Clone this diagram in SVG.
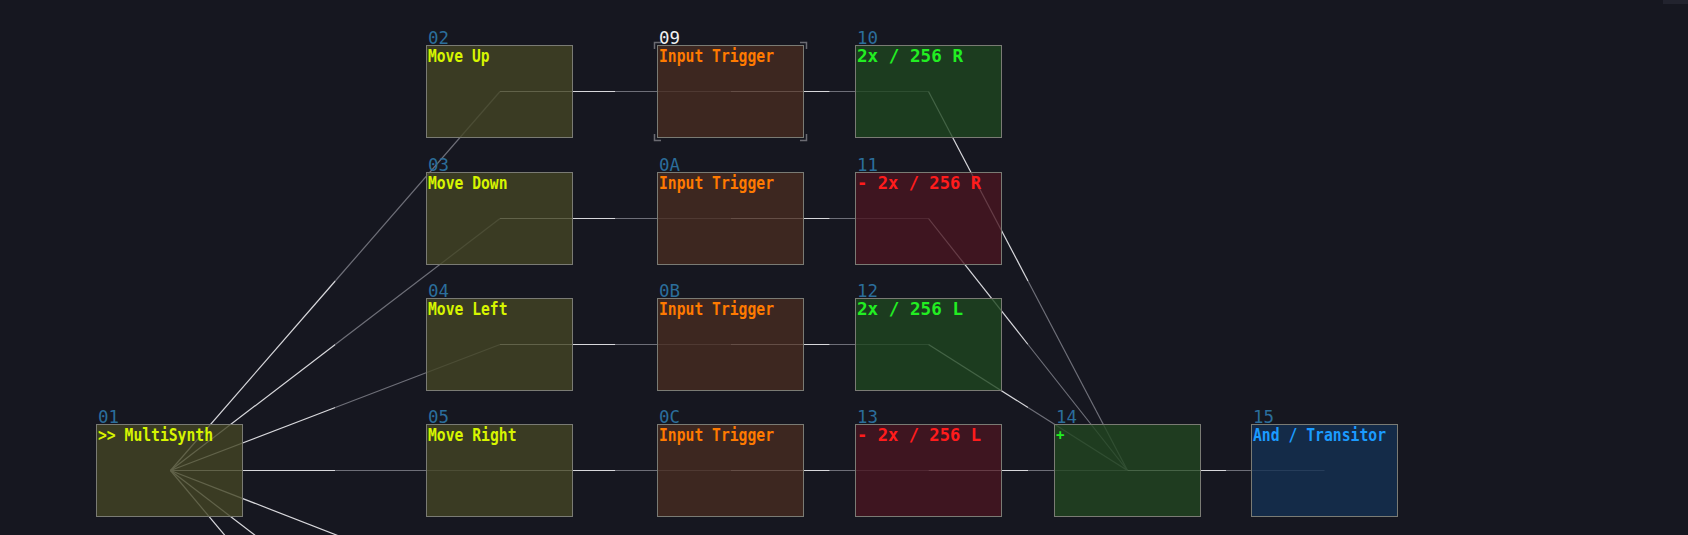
<svg xmlns="http://www.w3.org/2000/svg" width="1688" height="535" viewBox="0 0 1688 535">
<style>
.bg{fill:#161720}
.n{stroke:#7a7b74;stroke-width:1;fill-opacity:0.8}
.ol{fill:#434524}.br{fill:#472c20}.gr{fill:#1e461f}.g2{fill:#224621}.rd{fill:#481520}.bl{fill:#143152}
text{font-family:"DejaVu Sans Mono","Liberation Mono",monospace;font-size:17px}
.id{fill:#2b6e9b;font-size:18px}.sel{fill:#f0f0f0;font-size:18px}
.ty,.to,.tg,.tr,.tb{font-weight:bold}
.ty{fill:#d7f500}.to{fill:#ff7a00}.tg{fill:#22ee22}.tr{fill:#ff1c1c}.tb{fill:#1b9bff}
.b{stroke:#d8d8dc;stroke-width:1.2;fill:none}
.d{stroke:#6e6f78;stroke-width:1.2;fill:none}
.brk{stroke:#6b6b72;stroke-width:1.5;fill:none}
</style>
<rect class="bg" x="0" y="0" width="1688" height="535"/>
<rect x="1663" y="0" width="25" height="4" fill="#22232e"/>
<g id="connectors">
<line class="b" x1="170.5" y1="470.5" x2="335.25" y2="281"/><line class="d" x1="335.25" y1="281" x2="500" y2="91.5"/>
<line class="b" x1="170.5" y1="470.5" x2="335.25" y2="344.5"/><line class="d" x1="335.25" y1="344.5" x2="500" y2="218.5"/>
<line class="b" x1="170.5" y1="470.5" x2="335.25" y2="407.5"/><line class="d" x1="335.25" y1="407.5" x2="500" y2="344.5"/>
<line class="b" x1="170.5" y1="470.5" x2="335.25" y2="470.5"/><line class="d" x1="335.25" y1="470.5" x2="500" y2="470.5"/>
<line class="b" x1="170.5" y1="470.5" x2="279" y2="600"/>
<line class="b" x1="170.5" y1="470.5" x2="339.5" y2="600"/>
<line class="b" x1="170.5" y1="470.5" x2="503.5" y2="600"/>
<line class="b" x1="500" y1="91.5" x2="615.5" y2="91.5"/><line class="d" x1="615.5" y1="91.5" x2="731" y2="91.5"/>
<line class="b" x1="731" y1="91.5" x2="829.75" y2="91.5"/><line class="d" x1="829.75" y1="91.5" x2="928.5" y2="91.5"/>
<line class="b" x1="500" y1="218.5" x2="615.5" y2="218.5"/><line class="d" x1="615.5" y1="218.5" x2="731" y2="218.5"/>
<line class="b" x1="731" y1="218.5" x2="829.75" y2="218.5"/><line class="d" x1="829.75" y1="218.5" x2="928.5" y2="218.5"/>
<line class="b" x1="500" y1="344.5" x2="615.5" y2="344.5"/><line class="d" x1="615.5" y1="344.5" x2="731" y2="344.5"/>
<line class="b" x1="731" y1="344.5" x2="829.75" y2="344.5"/><line class="d" x1="829.75" y1="344.5" x2="928.5" y2="344.5"/>
<line class="b" x1="500" y1="470.5" x2="615.5" y2="470.5"/><line class="d" x1="615.5" y1="470.5" x2="731" y2="470.5"/>
<line class="b" x1="731" y1="470.5" x2="829.75" y2="470.5"/><line class="d" x1="829.75" y1="470.5" x2="928.5" y2="470.5"/>
<line class="b" x1="928.5" y1="91.5" x2="1028" y2="281"/><line class="d" x1="1028" y1="281" x2="1127.5" y2="470.5"/>
<line class="b" x1="928.5" y1="218.5" x2="1028" y2="344.5"/><line class="d" x1="1028" y1="344.5" x2="1127.5" y2="470.5"/>
<line class="b" x1="928.5" y1="344.5" x2="1028" y2="407.5"/><line class="d" x1="1028" y1="407.5" x2="1127.5" y2="470.5"/>
<line class="b" x1="928.5" y1="470.5" x2="1028" y2="470.5"/><line class="d" x1="1028" y1="470.5" x2="1127.5" y2="470.5"/>
<line class="b" x1="1127.5" y1="470.5" x2="1226" y2="470.5"/><line class="d" x1="1226" y1="470.5" x2="1324.5" y2="470.5"/>
</g>
<g id="n01"><rect class="n ol" x="96.5" y="424.5" width="146" height="92"/><text class="id" x="98" y="423" textLength="21" lengthAdjust="spacingAndGlyphs">01</text><text class="ty" x="98" y="441" textLength="115" lengthAdjust="spacingAndGlyphs">&gt;&gt; MultiSynth</text></g>
<g id="n02"><rect class="n ol" x="426.5" y="45.5" width="146" height="92"/><text class="id" x="428" y="44" textLength="21" lengthAdjust="spacingAndGlyphs">02</text><text class="ty" x="428" y="62" textLength="61.5" lengthAdjust="spacingAndGlyphs">Move Up</text></g>
<g id="n03"><rect class="n ol" x="426.5" y="172.5" width="146" height="92"/><text class="id" x="428" y="171" textLength="21" lengthAdjust="spacingAndGlyphs">03</text><text class="ty" x="428" y="189" textLength="79.5" lengthAdjust="spacingAndGlyphs">Move Down</text></g>
<g id="n04"><rect class="n ol" x="426.5" y="298.5" width="146" height="92"/><text class="id" x="428" y="297" textLength="21" lengthAdjust="spacingAndGlyphs">04</text><text class="ty" x="428" y="315" textLength="79.5" lengthAdjust="spacingAndGlyphs">Move Left</text></g>
<g id="n05"><rect class="n ol" x="426.5" y="424.5" width="146" height="92"/><text class="id" x="428" y="423" textLength="21" lengthAdjust="spacingAndGlyphs">05</text><text class="ty" x="428" y="441" textLength="88.5" lengthAdjust="spacingAndGlyphs">Move Right</text></g>
<g id="n09"><rect class="n br" x="657.5" y="45.5" width="146" height="92"/>
<path class="brk" d="M654.5 49V42.5H661 M800 42.5H806.5V49 M654.5 134V140.5H661 M800 140.5H806.5V134"/>
<text class="sel" x="659" y="44" textLength="21" lengthAdjust="spacingAndGlyphs">09</text><text class="to" x="659" y="62" textLength="115" lengthAdjust="spacingAndGlyphs">Input Trigger</text></g>
<g id="n0A"><rect class="n br" x="657.5" y="172.5" width="146" height="92"/><text class="id" x="659" y="171" textLength="21" lengthAdjust="spacingAndGlyphs">0A</text><text class="to" x="659" y="189" textLength="115" lengthAdjust="spacingAndGlyphs">Input Trigger</text></g>
<g id="n0B"><rect class="n br" x="657.5" y="298.5" width="146" height="92"/><text class="id" x="659" y="297" textLength="21" lengthAdjust="spacingAndGlyphs">0B</text><text class="to" x="659" y="315" textLength="115" lengthAdjust="spacingAndGlyphs">Input Trigger</text></g>
<g id="n0C"><rect class="n br" x="657.5" y="424.5" width="146" height="92"/><text class="id" x="659" y="423" textLength="21" lengthAdjust="spacingAndGlyphs">0C</text><text class="to" x="659" y="441" textLength="115" lengthAdjust="spacingAndGlyphs">Input Trigger</text></g>
<g id="n10"><rect class="n gr" x="855.5" y="45.5" width="146" height="92"/><text class="id" x="857" y="44" textLength="21" lengthAdjust="spacingAndGlyphs">10</text><text class="tg" x="857" y="62" textLength="106" lengthAdjust="spacingAndGlyphs">2x / 256 R</text></g>
<g id="n11"><rect class="n rd" x="855.5" y="172.5" width="146" height="92"/><text class="id" x="857" y="171" textLength="21" lengthAdjust="spacingAndGlyphs">11</text><text class="tr" x="857" y="189" textLength="124" lengthAdjust="spacingAndGlyphs">- 2x / 256 R</text></g>
<g id="n12"><rect class="n gr" x="855.5" y="298.5" width="146" height="92"/><text class="id" x="857" y="297" textLength="21" lengthAdjust="spacingAndGlyphs">12</text><text class="tg" x="857" y="315" textLength="106" lengthAdjust="spacingAndGlyphs">2x / 256 L</text></g>
<g id="n13"><rect class="n rd" x="855.5" y="424.5" width="146" height="92"/><text class="id" x="857" y="423" textLength="21" lengthAdjust="spacingAndGlyphs">13</text><text class="tr" x="857" y="441" textLength="124" lengthAdjust="spacingAndGlyphs">- 2x / 256 L</text></g>
<g id="n14"><rect class="n g2" x="1054.5" y="424.5" width="146" height="92"/><text class="id" x="1056" y="423" textLength="21" lengthAdjust="spacingAndGlyphs">14</text><text class="tg" x="1056" y="440" style="font-size:14px">+</text></g>
<g id="n15"><rect class="n bl" x="1251.5" y="424.5" width="146" height="92"/><text class="id" x="1253" y="423" textLength="21" lengthAdjust="spacingAndGlyphs">15</text><text class="tb" x="1253" y="441" textLength="133" lengthAdjust="spacingAndGlyphs">And / Transitor</text></g>
</svg>
